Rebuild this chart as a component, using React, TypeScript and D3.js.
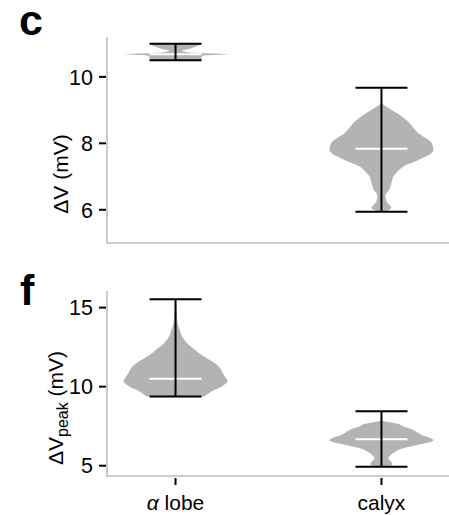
import React from "react";
import * as d3 from "d3";

// categories
const groups = ["α lobe", "calyx"];

// panel c: ΔV (mV) summary per group
const dvMin = [10.5, 5.94];
const dvMax = [11.0, 9.67];
const dvMedian = [10.68, 7.84];
const dvTicks = [6, 8, 10];

// panel c: density profiles (value levels, relative density)
const dvAlphaLevels = [10.5, 10.6, 10.64, 10.66, 10.68, 10.71, 10.75, 10.79, 10.85, 10.93, 11.0];
const dvAlphaDensity = [0.5, 0.5, 0.54, 0.77, 1, 0.58, 0.19, 0.12, 0.27, 0.42, 0.5];
const dvCalyxLevels = [5.94, 6.05, 6.15, 6.25, 6.45, 6.6, 6.8, 7.0, 7.15, 7.3, 7.45, 7.57, 7.7, 7.8, 7.95, 8.06, 8.2, 8.3, 8.5, 8.7, 8.9, 9.05, 9.16, 9.25];
const dvCalyxDensity = [0.08, 0.19, 0.15, 0.1, 0.08, 0.15, 0.19, 0.23, 0.31, 0.42, 0.65, 0.81, 0.96, 1, 0.98, 0.94, 0.81, 0.71, 0.6, 0.48, 0.31, 0.15, 0.04, 0];

// panel f: ΔV_peak (mV) summary per group
const peakMin = [9.37, 4.94];
const peakMax = [15.53, 8.45];
const peakMedian = [10.5, 6.67];
const peakTicks = [5, 10, 15];

const peakAlphaLevels = [9.37, 9.6, 9.8, 10.0, 10.35, 10.6, 10.9, 11.2, 11.6, 12.0, 12.4, 12.8, 13.2, 13.6, 14.0, 14.7, 15.3, 15.53];
const peakAlphaDensity = [0.55, 0.65, 0.75, 0.88, 1, 0.96, 0.9, 0.85, 0.7, 0.5, 0.35, 0.21, 0.12, 0.08, 0.04, 0.02, 0.01, 0];
const peakCalyxLevels = [4.94, 5.1, 5.25, 5.45, 5.65, 5.85, 6.05, 6.2, 6.4, 6.6, 6.75, 6.95, 7.1, 7.3, 7.5, 7.62, 7.72, 7.8, 7.85];
const peakCalyxDensity = [0.15, 0.21, 0.19, 0.13, 0.17, 0.25, 0.37, 0.54, 0.81, 1, 0.94, 0.77, 0.69, 0.58, 0.42, 0.35, 0.2, 0.08, 0];

const W = 449;
const H = 515;
const FONT = "'Liberation Sans', Arial, Helvetica, sans-serif";
const AXIS_GRAY = "#cccccc";
const VIOLIN_GRAY = "#b3b3b3";

const x = d3.scalePoint<string>().domain(groups).range([108, W]).padding(0.328);
const widthScale = d3.scaleLinear().domain([0, 1]).range([0, 52]);
const capHalf = 26;

type Panel = {
  y: d3.ScaleLinear<number, number>;
  ticks: number[];
  mins: number[];
  maxs: number[];
  medians: number[];
  levels: number[][];
  density: number[][];
};

function Violins({ p }: { p: Panel }) {
  return (
    <g>
      {groups.map((g, i) => {
        const cx = x(g) as number;
        const pts = p.levels[i].map((v, j) => [v, p.density[i][j]] as [number, number]);
        const area = d3
          .area<[number, number]>()
          .y((d) => p.y(d[0]))
          .x0((d) => cx - widthScale(d[1]))
          .x1((d) => cx + widthScale(d[1]))
          .curve(d3.curveCatmullRom.alpha(0.5));
        return (
          <g key={g}>
            <path d={area(pts) || ""} fill={VIOLIN_GRAY} />
            <line x1={cx - capHalf} x2={cx + capHalf} y1={p.y(p.medians[i])} y2={p.y(p.medians[i])} stroke="#fff" strokeWidth={2} />
            <line x1={cx} x2={cx} y1={p.y(p.mins[i])} y2={p.y(p.maxs[i])} stroke="#000" strokeWidth={2} />
            <line x1={cx - capHalf} x2={cx + capHalf} y1={p.y(p.maxs[i])} y2={p.y(p.maxs[i])} stroke="#000" strokeWidth={2} />
            <line x1={cx - capHalf} x2={cx + capHalf} y1={p.y(p.mins[i])} y2={p.y(p.mins[i])} stroke="#000" strokeWidth={2} />
          </g>
        );
      })}
    </g>
  );
}

function YAxis({ p }: { p: Panel }) {
  const [y0, y1] = p.y.range();
  return (
    <g>
      <line x1={107} x2={107} y1={y1} y2={y0 + 1} stroke={AXIS_GRAY} strokeWidth={2} />
      <line x1={106} x2={W} y1={y0} y2={y0} stroke={AXIS_GRAY} strokeWidth={2} />
      {p.ticks.map((t) => (
        <g key={t}>
          <line x1={99} x2={106} y1={p.y(t)} y2={p.y(t)} stroke="#000" strokeWidth={2} />
          <text x={93} y={p.y(t)} dy="0.36em" textAnchor="end" fontSize={21.5} fontFamily={FONT}>
            {t}
          </text>
        </g>
      ))}
    </g>
  );
}

export default function App() {
  const top: Panel = {
    y: d3.scaleLinear().domain([5, 11.2]).range([243, 37]),
    ticks: dvTicks,
    mins: dvMin,
    maxs: dvMax,
    medians: dvMedian,
    levels: [dvAlphaLevels, dvCalyxLevels],
    density: [dvAlphaDensity, dvCalyxDensity],
  };
  const bottom: Panel = {
    y: d3.scaleLinear().domain([4.35, 16.05]).range([476, 291]),
    ticks: peakTicks,
    mins: peakMin,
    maxs: peakMax,
    medians: peakMedian,
    levels: [peakAlphaLevels, peakCalyxLevels],
    density: [peakAlphaDensity, peakCalyxDensity],
  };

  return (
    <>
      <style>{`body{margin:0;overflow:hidden}`}</style>
      <svg width={W} height={H} style={{ display: "block" }} fontFamily={FONT}>
        <rect width={W} height={H} fill="#fff" />

        {/* panel c */}
        <text x={19} y={35} fontSize={43} fontWeight="bold">c</text>
        <YAxis p={top} />
        <Violins p={top} />
        <text transform="translate(68,174) rotate(-90)" textAnchor="middle" fontSize={21}>
          ΔV (mV)
        </text>

        {/* panel f */}
        <text x={20} y={305} fontSize={43} fontWeight="bold">f</text>
        <YAxis p={bottom} />
        <Violins p={bottom} />
        <text transform="translate(63,408) rotate(-90)" textAnchor="middle" fontSize={21}>
          ΔV
          <tspan dy={5} fontSize={16}>peak</tspan>
          <tspan dy={-5}> (mV)</tspan>
        </text>

        {/* x axis ticks */}
        {groups.map((g) => (
          <g key={g}>
            <line x1={x(g)} x2={x(g)} y1={478} y2={485} stroke="#000" strokeWidth={2} />
            <text x={x(g)} y={510} textAnchor="middle" fontSize={21}>
              {g === "α lobe" ? (
                <>
                  <tspan fontStyle="italic">α</tspan> lobe
                </>
              ) : (
                g
              )}
            </text>
          </g>
        ))}
      </svg>
    </>
  );
}
